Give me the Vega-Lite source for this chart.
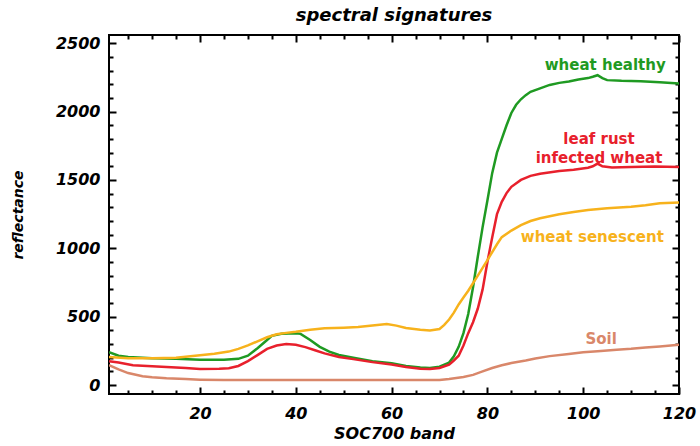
{
  "$schema": "https://vega.github.io/schema/vega-lite/v6.json",
  "width": 570,
  "height": 359,
  "autosize": "none",
  "padding": {"left": 109, "top": 35, "right": 21, "bottom": 52},
  "background": "white",
  "config": {
    "view": {"stroke": "black", "strokeWidth": 2},
    "font": "DejaVu Sans",
    "axis": {"domain": false, "grid": false, "tickColor": "black", "tickWidth": 2, "labelOverlap": false, "labelFlush": false}
  },
  "title": {
    "text": "spectral signatures",
    "font": "DejaVu Sans",
    "fontSize": 18,
    "fontWeight": "bold",
    "fontStyle": "italic",
    "color": "black",
    "offset": 9
  },
  "datasets": {
    "spectra": [
      {"band": 1, "value": 240, "series": "wheat healthy"},
      {"band": 3, "value": 215, "series": "wheat healthy"},
      {"band": 5, "value": 205, "series": "wheat healthy"},
      {"band": 10, "value": 197, "series": "wheat healthy"},
      {"band": 15, "value": 192, "series": "wheat healthy"},
      {"band": 20, "value": 185, "series": "wheat healthy"},
      {"band": 25, "value": 185, "series": "wheat healthy"},
      {"band": 28, "value": 192, "series": "wheat healthy"},
      {"band": 30, "value": 215, "series": "wheat healthy"},
      {"band": 32, "value": 270, "series": "wheat healthy"},
      {"band": 34, "value": 330, "series": "wheat healthy"},
      {"band": 35, "value": 360, "series": "wheat healthy"},
      {"band": 37, "value": 375, "series": "wheat healthy"},
      {"band": 40, "value": 380, "series": "wheat healthy"},
      {"band": 41, "value": 375, "series": "wheat healthy"},
      {"band": 43, "value": 330, "series": "wheat healthy"},
      {"band": 45, "value": 280, "series": "wheat healthy"},
      {"band": 47, "value": 245, "series": "wheat healthy"},
      {"band": 49, "value": 220, "series": "wheat healthy"},
      {"band": 52, "value": 200, "series": "wheat healthy"},
      {"band": 56, "value": 175, "series": "wheat healthy"},
      {"band": 60, "value": 160, "series": "wheat healthy"},
      {"band": 63, "value": 140, "series": "wheat healthy"},
      {"band": 66, "value": 128, "series": "wheat healthy"},
      {"band": 68, "value": 125, "series": "wheat healthy"},
      {"band": 70, "value": 135, "series": "wheat healthy"},
      {"band": 72, "value": 165, "series": "wheat healthy"},
      {"band": 73, "value": 210, "series": "wheat healthy"},
      {"band": 74, "value": 280, "series": "wheat healthy"},
      {"band": 75, "value": 380, "series": "wheat healthy"},
      {"band": 76, "value": 520, "series": "wheat healthy"},
      {"band": 77, "value": 716, "series": "wheat healthy"},
      {"band": 78, "value": 940, "series": "wheat healthy"},
      {"band": 79, "value": 1155, "series": "wheat healthy"},
      {"band": 80, "value": 1350, "series": "wheat healthy"},
      {"band": 81, "value": 1550, "series": "wheat healthy"},
      {"band": 82, "value": 1700, "series": "wheat healthy"},
      {"band": 83, "value": 1800, "series": "wheat healthy"},
      {"band": 84, "value": 1900, "series": "wheat healthy"},
      {"band": 85, "value": 1990, "series": "wheat healthy"},
      {"band": 86, "value": 2050, "series": "wheat healthy"},
      {"band": 87, "value": 2090, "series": "wheat healthy"},
      {"band": 88, "value": 2120, "series": "wheat healthy"},
      {"band": 89, "value": 2145, "series": "wheat healthy"},
      {"band": 91, "value": 2170, "series": "wheat healthy"},
      {"band": 93, "value": 2195, "series": "wheat healthy"},
      {"band": 95, "value": 2210, "series": "wheat healthy"},
      {"band": 97, "value": 2220, "series": "wheat healthy"},
      {"band": 99, "value": 2235, "series": "wheat healthy"},
      {"band": 101, "value": 2245, "series": "wheat healthy"},
      {"band": 102, "value": 2255, "series": "wheat healthy"},
      {"band": 103, "value": 2266, "series": "wheat healthy"},
      {"band": 104, "value": 2245, "series": "wheat healthy"},
      {"band": 105, "value": 2230, "series": "wheat healthy"},
      {"band": 108, "value": 2225, "series": "wheat healthy"},
      {"band": 112, "value": 2222, "series": "wheat healthy"},
      {"band": 116, "value": 2215, "series": "wheat healthy"},
      {"band": 120, "value": 2205, "series": "wheat healthy"},

      {"band": 1, "value": 175, "series": "leaf rust"},
      {"band": 3, "value": 165, "series": "leaf rust"},
      {"band": 6, "value": 146, "series": "leaf rust"},
      {"band": 10, "value": 138, "series": "leaf rust"},
      {"band": 13, "value": 132, "series": "leaf rust"},
      {"band": 17, "value": 125, "series": "leaf rust"},
      {"band": 20, "value": 117, "series": "leaf rust"},
      {"band": 24, "value": 120, "series": "leaf rust"},
      {"band": 26, "value": 124, "series": "leaf rust"},
      {"band": 28, "value": 140, "series": "leaf rust"},
      {"band": 30, "value": 175, "series": "leaf rust"},
      {"band": 32, "value": 219, "series": "leaf rust"},
      {"band": 34, "value": 265, "series": "leaf rust"},
      {"band": 36, "value": 290, "series": "leaf rust"},
      {"band": 38, "value": 300, "series": "leaf rust"},
      {"band": 40, "value": 295, "series": "leaf rust"},
      {"band": 42, "value": 278, "series": "leaf rust"},
      {"band": 44, "value": 255, "series": "leaf rust"},
      {"band": 46, "value": 232, "series": "leaf rust"},
      {"band": 49, "value": 205, "series": "leaf rust"},
      {"band": 52, "value": 190, "series": "leaf rust"},
      {"band": 56, "value": 168, "series": "leaf rust"},
      {"band": 60, "value": 150, "series": "leaf rust"},
      {"band": 63, "value": 132, "series": "leaf rust"},
      {"band": 66, "value": 120, "series": "leaf rust"},
      {"band": 68, "value": 117, "series": "leaf rust"},
      {"band": 70, "value": 125, "series": "leaf rust"},
      {"band": 72, "value": 150, "series": "leaf rust"},
      {"band": 73, "value": 180, "series": "leaf rust"},
      {"band": 74, "value": 215, "series": "leaf rust"},
      {"band": 75, "value": 290, "series": "leaf rust"},
      {"band": 76, "value": 380, "series": "leaf rust"},
      {"band": 77, "value": 460, "series": "leaf rust"},
      {"band": 78, "value": 560, "series": "leaf rust"},
      {"band": 79, "value": 700, "series": "leaf rust"},
      {"band": 80, "value": 900, "series": "leaf rust"},
      {"band": 81, "value": 1080, "series": "leaf rust"},
      {"band": 82, "value": 1250, "series": "leaf rust"},
      {"band": 83, "value": 1340, "series": "leaf rust"},
      {"band": 84, "value": 1404, "series": "leaf rust"},
      {"band": 85, "value": 1450, "series": "leaf rust"},
      {"band": 87, "value": 1500, "series": "leaf rust"},
      {"band": 89, "value": 1530, "series": "leaf rust"},
      {"band": 91, "value": 1545, "series": "leaf rust"},
      {"band": 95, "value": 1565, "series": "leaf rust"},
      {"band": 98, "value": 1575, "series": "leaf rust"},
      {"band": 101, "value": 1590, "series": "leaf rust"},
      {"band": 102, "value": 1600, "series": "leaf rust"},
      {"band": 103, "value": 1620, "series": "leaf rust"},
      {"band": 104, "value": 1600, "series": "leaf rust"},
      {"band": 106, "value": 1592, "series": "leaf rust"},
      {"band": 110, "value": 1595, "series": "leaf rust"},
      {"band": 115, "value": 1598, "series": "leaf rust"},
      {"band": 120, "value": 1594, "series": "leaf rust"},

      {"band": 1, "value": 205, "series": "wheat senescent"},
      {"band": 5, "value": 197, "series": "wheat senescent"},
      {"band": 10, "value": 196, "series": "wheat senescent"},
      {"band": 15, "value": 200, "series": "wheat senescent"},
      {"band": 20, "value": 219, "series": "wheat senescent"},
      {"band": 23, "value": 230, "series": "wheat senescent"},
      {"band": 26, "value": 245, "series": "wheat senescent"},
      {"band": 28, "value": 265, "series": "wheat senescent"},
      {"band": 30, "value": 290, "series": "wheat senescent"},
      {"band": 32, "value": 320, "series": "wheat senescent"},
      {"band": 34, "value": 350, "series": "wheat senescent"},
      {"band": 36, "value": 372, "series": "wheat senescent"},
      {"band": 38, "value": 382, "series": "wheat senescent"},
      {"band": 40, "value": 390, "series": "wheat senescent"},
      {"band": 43, "value": 405, "series": "wheat senescent"},
      {"band": 46, "value": 415, "series": "wheat senescent"},
      {"band": 50, "value": 420, "series": "wheat senescent"},
      {"band": 53, "value": 425, "series": "wheat senescent"},
      {"band": 56, "value": 435, "series": "wheat senescent"},
      {"band": 59, "value": 446, "series": "wheat senescent"},
      {"band": 61, "value": 435, "series": "wheat senescent"},
      {"band": 63, "value": 417, "series": "wheat senescent"},
      {"band": 66, "value": 405, "series": "wheat senescent"},
      {"band": 68, "value": 400, "series": "wheat senescent"},
      {"band": 70, "value": 410, "series": "wheat senescent"},
      {"band": 71, "value": 440, "series": "wheat senescent"},
      {"band": 72, "value": 480, "series": "wheat senescent"},
      {"band": 73, "value": 530, "series": "wheat senescent"},
      {"band": 74, "value": 590, "series": "wheat senescent"},
      {"band": 75, "value": 640, "series": "wheat senescent"},
      {"band": 76, "value": 690, "series": "wheat senescent"},
      {"band": 78, "value": 800, "series": "wheat senescent"},
      {"band": 80, "value": 914, "series": "wheat senescent"},
      {"band": 82, "value": 1030, "series": "wheat senescent"},
      {"band": 83, "value": 1082, "series": "wheat senescent"},
      {"band": 85, "value": 1130, "series": "wheat senescent"},
      {"band": 87, "value": 1170, "series": "wheat senescent"},
      {"band": 89, "value": 1200, "series": "wheat senescent"},
      {"band": 91, "value": 1220, "series": "wheat senescent"},
      {"band": 95, "value": 1250, "series": "wheat senescent"},
      {"band": 98, "value": 1265, "series": "wheat senescent"},
      {"band": 101, "value": 1280, "series": "wheat senescent"},
      {"band": 105, "value": 1294, "series": "wheat senescent"},
      {"band": 110, "value": 1305, "series": "wheat senescent"},
      {"band": 113, "value": 1315, "series": "wheat senescent"},
      {"band": 116, "value": 1330, "series": "wheat senescent"},
      {"band": 120, "value": 1335, "series": "wheat senescent"},

      {"band": 1, "value": 146, "series": "Soil"},
      {"band": 3, "value": 115, "series": "Soil"},
      {"band": 5, "value": 88, "series": "Soil"},
      {"band": 8, "value": 65, "series": "Soil"},
      {"band": 10, "value": 58, "series": "Soil"},
      {"band": 13, "value": 50, "series": "Soil"},
      {"band": 17, "value": 44, "series": "Soil"},
      {"band": 20, "value": 40, "series": "Soil"},
      {"band": 25, "value": 37, "series": "Soil"},
      {"band": 30, "value": 37, "series": "Soil"},
      {"band": 40, "value": 37, "series": "Soil"},
      {"band": 50, "value": 37, "series": "Soil"},
      {"band": 60, "value": 37, "series": "Soil"},
      {"band": 70, "value": 37, "series": "Soil"},
      {"band": 72, "value": 45, "series": "Soil"},
      {"band": 75, "value": 60, "series": "Soil"},
      {"band": 77, "value": 75, "series": "Soil"},
      {"band": 79, "value": 100, "series": "Soil"},
      {"band": 81, "value": 125, "series": "Soil"},
      {"band": 83, "value": 145, "series": "Soil"},
      {"band": 85, "value": 161, "series": "Soil"},
      {"band": 88, "value": 180, "series": "Soil"},
      {"band": 90, "value": 195, "series": "Soil"},
      {"band": 93, "value": 212, "series": "Soil"},
      {"band": 97, "value": 228, "series": "Soil"},
      {"band": 100, "value": 240, "series": "Soil"},
      {"band": 103, "value": 248, "series": "Soil"},
      {"band": 107, "value": 258, "series": "Soil"},
      {"band": 110, "value": 265, "series": "Soil"},
      {"band": 113, "value": 275, "series": "Soil"},
      {"band": 116, "value": 283, "series": "Soil"},
      {"band": 120, "value": 295, "series": "Soil"}
    ],
    "labels": [
      {"band": 104.6, "value": 2340, "series": "wheat healthy", "text": ["wheat healthy"]},
      {"band": 103.3, "value": 1800, "series": "leaf rust", "text": ["leaf rust", "infected wheat"]},
      {"band": 101.9, "value": 1085, "series": "wheat senescent", "text": ["wheat senescent"]},
      {"band": 103.75, "value": 340, "series": "Soil", "text": ["Soil"]}
    ]
  },
  "layer": [
    {
      "data": {"name": "spectra"},
      "mark": {"type": "line", "strokeWidth": 2.5, "clip": true},
      "encoding": {
        "x": {
          "field": "band", "type": "quantitative",
          "scale": {"domain": [1, 120], "nice": false, "zero": false},
          "axis": {
            "orient": "bottom",
            "title": "SOC700 band",
            "values": [20, 40, 60, 80, 100, 120],
            "offset": -7,
            "tickSize": 7,
            "labelFont": "DejaVu Sans", "labelFontSize": 16, "labelFontWeight": "bold", "labelFontStyle": "italic", "labelColor": "black",
            "labelPadding": 11,
            "titleFont": "DejaVu Sans", "titleFontSize": 16, "titleFontWeight": "bold", "titleFontStyle": "italic", "titleColor": "black",
            "titlePadding": 4
          }
        },
        "y": {
          "field": "value", "type": "quantitative",
          "scale": {"domain": [-65, 2560], "nice": false, "zero": false},
          "axis": {
            "orient": "left",
            "title": "reflectance",
            "values": [0, 500, 1000, 1500, 2000, 2500],
            "format": "d",
            "offset": -7,
            "tickSize": 7,
            "labelFont": "DejaVu Sans", "labelFontSize": 16, "labelFontWeight": "bold", "labelFontStyle": "italic", "labelColor": "black",
            "labelPadding": 9,
            "titleFont": "DejaVu Sans", "titleFontSize": 14, "titleFontWeight": "bold", "titleFontStyle": "italic", "titleColor": "black",
            "titlePadding": 30
          }
        },
        "color": {
          "field": "series", "type": "nominal",
          "scale": {"domain": ["wheat healthy", "leaf rust", "wheat senescent", "Soil"], "range": ["#1f9a22", "#e8202c", "#f7b21c", "#d9876a"]},
          "legend": null
        }
      }
    },
    {
      "data": {"name": "labels"},
      "mark": {"type": "text", "font": "DejaVu Sans", "fontSize": 15, "fontWeight": "bold", "align": "center", "baseline": "middle", "lineHeight": 19},
      "encoding": {
        "x": {
          "field": "band", "type": "quantitative",
          "scale": {"domain": [1, 120], "nice": false, "zero": false},
          "axis": {"orient": "top", "title": null, "labels": false, "values": [20, 40, 60, 80, 100, 120], "offset": -7, "tickSize": 7}
        },
        "y": {
          "field": "value", "type": "quantitative",
          "scale": {"domain": [-65, 2560], "nice": false, "zero": false},
          "axis": {"orient": "right", "title": null, "labels": false, "values": [0, 500, 1000, 1500, 2000, 2500], "offset": -7, "tickSize": 7}
        },
        "text": {"field": "text"},
        "color": {
          "field": "series", "type": "nominal",
          "scale": {"domain": ["wheat healthy", "leaf rust", "wheat senescent", "Soil"], "range": ["#1f9a22", "#e8202c", "#f7b21c", "#d9876a"]},
          "legend": null
        }
      }
    },
    {
      "data": {"name": "labels"},
      "mark": {"type": "point", "opacity": 0},
      "encoding": {
        "x": {
          "field": "band", "type": "quantitative",
          "scale": {"domain": [1, 120], "nice": false, "zero": false},
          "axis": {"orient": "bottom", "title": null, "labels": false, "values": [5,10,15,25,30,35,45,50,55,65,70,75,85,90,95,105,110,115], "offset": -4, "tickSize": 4}
        },
        "y": {
          "field": "value", "type": "quantitative",
          "scale": {"domain": [-65, 2560], "nice": false, "zero": false},
          "axis": {"orient": "left", "title": null, "labels": false, "values": [100,200,300,400,600,700,800,900,1100,1200,1300,1400,1600,1700,1800,1900,2100,2200,2300,2400], "offset": -4, "tickSize": 4}
        }
      }
    },
    {
      "data": {"name": "labels"},
      "mark": {"type": "point", "opacity": 0},
      "encoding": {
        "x": {
          "field": "band", "type": "quantitative",
          "scale": {"domain": [1, 120], "nice": false, "zero": false},
          "axis": {"orient": "top", "title": null, "labels": false, "values": [5,10,15,25,30,35,45,50,55,65,70,75,85,90,95,105,110,115], "offset": -4, "tickSize": 4}
        },
        "y": {
          "field": "value", "type": "quantitative",
          "scale": {"domain": [-65, 2560], "nice": false, "zero": false},
          "axis": {"orient": "right", "title": null, "labels": false, "values": [100,200,300,400,600,700,800,900,1100,1200,1300,1400,1600,1700,1800,1900,2100,2200,2300,2400], "offset": -4, "tickSize": 4}
        }
      }
    }
  ],
  "resolve": {"axis": {"x": "independent", "y": "independent"}}
}
